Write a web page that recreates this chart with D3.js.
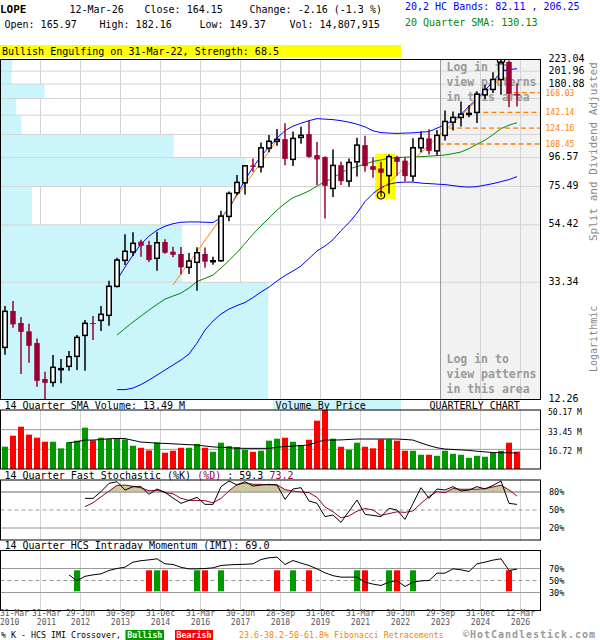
<!DOCTYPE html>
<html><head><meta charset="utf-8">
<script src="https://cdn.jsdelivr.net/npm/d3@7"></script>
<style>
body{margin:0;background:#fff;}
svg text{font-family:"DejaVu Sans Mono",monospace;}
</style></head><body>
<svg id="c" width="600" height="640"></svg>
<script>
// ---------------- DATA ----------------
const startYear = 2010; // first quarter shown: 2010 Q1, 65 quarters
const open  = [19.13,26.08,23.54,21.93,19.84,14.60,14.19,15.85,16.27,17.72,21.19,23.54,24.09,25.14,32.20,40.20,43.16,47.11,45.80,40.91,46.99,43.27,42.43,37.87,39.52,42.43,39.90,40.06,58.47,71.54,77.89,90.34,89.25,104.75,110.96,113.06,95.13,114.71,118.0,98.60,96.93,74.24,90.55,79.02,93.14,107.41,89.78,88.03,82.83,97.11,94.10,82.47,104.99,113.74,102.28,116.73,130.65,136.05,139.6,141.99,164.95,172.73,188.1,218.5,165.97];
const high  = [27.21,28.40,24.77,23.40,20.65,15.53,17.92,17.32,18.54,21.24,24.15,24.99,27.21,33.77,41.12,50.25,51.12,47.95,47.52,51.25,48.16,45.14,45.03,42.79,44.91,44.80,41.46,61.33,72.39,83.17,90.55,95.85,109.93,117.0,123.29,129.54,120.55,125.60,132.57,110.21,97.76,103.56,93.14,95.85,114.34,116.31,96.69,93.14,99.20,98.01,96.69,113.88,120.55,123.13,122.10,144.44,143.21,155.97,150.84,169.81,179.65,200.26,223.04,221.0,182.16];
const low   = [17.97,22.61,15.23,16.78,13.67,12.27,13.67,14.07,15.67,15.76,15.67,20.36,21.98,23.00,31.87,38.62,41.71,41.46,39.62,36.78,42.54,41.24,35.67,35.76,31.00,37.74,38.72,39.72,56.12,70.14,70.56,85.56,85.12,101.16,106.92,90.55,89.93,108.61,96.52,76.37,57.47,68.95,76.37,75.27,82.23,85.56,81.27,69.12,71.17,82.68,78.69,78.69,100.99,99.20,98.37,111.82,121.79,125.94,136.40,129.88,159.2,167.75,164.95,148.55,149.37];
const close = [26.01,23.28,21.85,19.39,14.38,14.14,16.13,15.95,17.66,20.83,23.48,23.34,25.36,32.20,40.30,43.42,46.46,45.53,40.30,46.71,42.90,42.17,37.87,39.96,42.90,39.72,40.06,58.62,71.16,78.15,90.01,89.25,104.96,110.96,112.79,95.55,113.74,116.73,97.18,95.06,75.91,90.34,79.02,92.67,107.41,89.78,86.99,84.84,97.36,93.14,82.47,104.99,113.74,102.28,116.73,131.44,136.05,139.93,140.8,165.93,172.73,188.1,218.0,166.31,164.15];
// volume, millions of shares
const volume = [18.96,28.31,35.97,29.20,26.60,23.19,23.19,17.54,22.89,24.08,35.15,24.37,26.60,25.49,26.31,25.19,19.77,18.06,15.83,22.66,13.82,15.53,18.06,18.06,21.18,18.06,14.64,22.37,19.47,18.65,16.35,14.64,15.53,24.08,25.79,26.60,23.19,20.36,24.89,41.09,50.17,25.79,18.95,16.35,22.37,18.95,17.54,25.19,25.19,24.08,15.53,15.53,12.11,12.11,11.22,15.53,12.93,12.11,9.51,11.22,10.40,13.82,15.53,22.37,14.81];
const volSmaStart = 8;
const volSma = [22.37,23.26,24.6,24.6,25.12,25.71,26.0,25.86,24.37,22.89,22.52,21.92,21.77,21.40,21.03,20.66,20.36,19.54,18.80,18.43,18.06,17.69,17.54,17.54,17.54,17.54,18.43,19.17,19.47,19.92,20.36,22.89,24.6,24.6,24.75,25.12,25.49,25.49,25.49,25.49,25.49,25.49,25.12,24.6,22.14,19.92,18.06,16.94,16.57,16.2,15.83,15.09,14.56,13.97,13.82,13.82,13.49];
// 20,2 bands and 20 quarter SMA
const bandStart = 14;
const bandUpper = [33.97,37.96,42.06,46.19,49.41,52.0,53.78,54.94,55.64,55.79,55.79,55.64,55.50,57.88,62.23,70.74,79.7,89.02,97.77,105.6,114.04,121.58,126.27,129.54,132.34,134.66,134.10,133.53,132.34,130.65,128.43,125.51,121.37,119.52,119.01,118.71,119.01,119.3,120.04,120.55,124.13,127.9,132.9,139.36,149.83,159.0,171.7,184.3,201.1,204.57,206.25];
const bandLower = [13.34,13.34,13.52,13.93,14.47,15.10,15.76,16.45,17.17,18.07,19.84,22.17,23.94,25.42,26.52,27.33,28.04,29.26,30.66,32.0,33.68,35.31,36.69,38.29,40.83,43.53,45.41,47.95,51.78,55.41,60.14,66.35,71.05,74.77,77.02,78.02,78.35,78.35,77.68,77.36,77.02,76.70,76.05,75.40,75.08,75.40,76.37,77.36,78.69,80.05,82.11];
const sma20 = [21.24,22.49,23.74,24.99,26.30,27.59,28.89,29.63,30.40,31.73,33.54,34.47,35.45,37.64,40.13,42.98,46.40,50.25,53.91,57.63,61.7,65.32,68.67,70.45,72.70,75.72,78.62,81.07,84.98,87.57,89.47,91.32,93.46,94.66,96.11,96.5,96.93,97.1,97.36,97.76,98.2,98.76,99.87,101.34,104.26,108.33,112.1,117.45,123.6,127.35,130.13];
// stochastic
const stochStart = 10;
const stochK = [69.4,69.4,80.6,94.4,97.2,83.3,88.9,88.9,76.1,85,79.4,70,61.1,66,71.1,59.4,59.4,88.9,98.3,91.7,97.2,90,91.5,92.8,91.7,67.8,85,87.2,65,61.1,38.9,41.7,29.4,48,66.7,42.8,41,38.9,52.8,50,34.4,61,87.2,69.4,85,83.3,88.9,81.7,83.3,88.9,85,91,98.3,61.1,59.3];
const stochD = [55.6,62,72,81.5,91,91.5,89.5,87,82,83,79,77,69.5,66,66,65.5,62,69.3,82,92.5,95,93,92.8,91.8,92,84,81.5,80,79,71,55,47,37,40,48,52.5,50,41,44,47,46,48.5,61,72.5,80.5,79,85.8,84.6,84.6,84.6,85.7,88.4,91.4,83.5,73.2];
// intraday momentum
const imiStart = 8;
const imi = [59.4,49.4,57,59.4,61.1,66.7,70,72.2,80.6,83,84.4,86.1,77.8,76.7,72,69.4,69.4,70,71.1,75,76,76.7,77,77.8,85,87.8,88.9,76.7,83.3,79,75,69.4,62.8,58,55.6,55.6,55.6,47.2,44,41.7,47.2,50,40,47.2,49.4,50,62.2,62.2,69.4,67.8,65,77.8,80.6,84,86.1,66.7,69.0];
const crossIdx  = [9,18,19,20,24,25,27,34,36,38,44,45,48,49,51,63];
const crossType = ["bull","bear","bull","bear","bull","bear","bull","bear","bull","bear","bull","bear","bull","bear","bull","bear"];
// price axis
const priceGrid = [12.26,33.34,54.42,75.49,96.57,117.64,138.72,159.80,180.88,201.96,223.04];
const priceLabels = [12.26,33.34,54.42,75.49,96.57,180.88,201.96,223.04];
// volume by price (millions of shares per price band between grid levels, bottom up)
const vbpVolume = [348,236,41,318.5,225,27.3,20.4,57.2,14.3,15.2];
// fibonacci retracements
const fibLevels = [168.03,142.14,124.16,108.45];
const fibFrom   = [62.6,58.8,55.5,54.2];
// trend lines [startIdx, startPrice, endIdx, endPrice]
const trendLines = [[21,32.6,34,112.1],[47,73.4,62,190]];
// pattern
const patternIdx = [47,48];
const swingLowIdx = 47, swingHighIdx = 62;
// x-axis ticks
const tickIdx  = [0,4,9,14,19,24,29,34,39,44,49,54,59,64];
const tickDay  = ["31-Mar","31-Mar","29-Jun","30-Sep","31-Dec","31-Mar","30-Jun","28-Sep","31-Dec","31-Mar","30-Jun","29-Sep","31-Dec","12-Mar"];
const tickYear = ["2010","2011","2012","2013","2014","2016","2017","2018","2019","2021","2022","2023","2024","2026"];
const volTicks = [16.72,33.45,50.17];

// ---------------- CHART ----------------
const svg = d3.select("#c");
const n = open.length;
const L = 0.5, R = 540.5;
const x = d3.scaleLinear().domain([0, n-1]).range([5, 517]);
const yP = d3.scaleLog().domain([12.26, 223.04]).range([399.5, 59.5]);
const yV = d3.scaleLinear().domain([0, 50.17]).range([469, 410]);
const yS = d3.scaleLinear().domain([0, 100]).range([540, 480]);
const yI = d3.scaleLinear().domain([0, 100]).range([610.5, 550.5]);
const RED = "#990033", GRID = "#d3d3d3", DARK = "#999";
const gridX = tickIdx.slice(1).map(i => x(i) + 3.5);

svg.append("rect").attr("width",600).attr("height",640).attr("fill","#fff");

// header
svg.append("rect").attr("x",0).attr("y",45).attr("width",401).attr("height",12).attr("fill","#ffff00");
const hdr = svg.append("g").attr("font-size",10).attr("fill","#000");
hdr.append("text").attr("x",0).attr("y",12.5).attr("font-weight","bold").attr("font-size",11).text("LOPE");
hdr.append("text").attr("x",69.5).attr("y",12.5).text("12-Mar-26");
hdr.append("text").attr("x",144.5).attr("y",12.5).text("Close: " + close[n-1].toFixed(2));
hdr.append("text").attr("x",249.5).attr("y",12.5).text("Change: -2.16 (-1.3 %)");
hdr.append("text").attr("x",4.5).attr("y",28).text("Open: " + open[n-1].toFixed(2));
hdr.append("text").attr("x",99.5).attr("y",28).text("High: " + high[n-1].toFixed(2));
hdr.append("text").attr("x",199.5).attr("y",28).text("Low: " + low[n-1].toFixed(2));
hdr.append("text").attr("x",289.5).attr("y",28).text("Vol: 14,807,915");
hdr.append("text").attr("x",405).attr("y",10).attr("fill","#0000ff").text("20,2 HC Bands: " + bandLower[bandLower.length-1].toFixed(2) + " , " + bandUpper[bandUpper.length-1].toFixed(2));
hdr.append("text").attr("x",405).attr("y",26).attr("fill","#008800").text("20 Quarter SMA: " + sma20[sma20.length-1].toFixed(2));
hdr.append("text").attr("x",2).attr("y",55).text("Bullish Engulfing on 31-Mar-22, Strength: 68.5");

// ---------- main price panel ----------
svg.append("clipPath").attr("id","mclip").append("rect").attr("x",L).attr("y",59.5).attr("width",R-L).attr("height",340);
const m = svg.append("g").attr("clip-path","url(#mclip)");
m.append("rect").attr("x",x(54)+3.5).attr("y",59.5).attr("width",R-(x(54)+3.5)).attr("height",340).attr("fill","#f2f2f2");
m.selectAll(".vg").data(gridX).join("line").attr("x1",d=>d).attr("x2",d=>d).attr("y1",59.5).attr("y2",399.5).attr("stroke",GRID);
const vbpX = d3.scaleLinear().domain([0, d3.max(vbpVolume)]).range([0, 267.7]);
m.selectAll(".vbp").data(vbpVolume).join("rect")
  .attr("x",L).attr("y",(d,k)=>yP(priceGrid[k+1])).attr("width",d=>vbpX(d))
  .attr("height",(d,k)=>yP(priceGrid[k])-yP(priceGrid[k+1])).attr("fill","#c9f5fb");
m.selectAll(".hg").data(priceGrid).join("line").attr("x1",L).attr("x2",R).attr("y1",d=>yP(d)).attr("y2",d=>yP(d)).attr("stroke",GRID);
m.append("line").attr("x1",x(54)+3.5).attr("x2",x(54)+3.5).attr("y1",59.5).attr("y2",399.5).attr("stroke",DARK);
const lg = m.append("g").attr("fill","#9a9a9a").attr("font-weight","bold").attr("font-size",11.5);
[["Log in to",70.5],["view patterns",85.5],["in this area",100.5],["Log in to",363],["view patterns",378],["in this area",393]].forEach(t=>{
  lg.append("text").attr("x",446.5).attr("y",t[1]).text(t[0]);
});
m.append("rect").attr("x",x(patternIdx[0])-6).attr("width",x(patternIdx[1])-x(patternIdx[0])+12)
  .attr("y",yP(d3.max(patternIdx,i=>high[i]))-1)
  .attr("height",yP(d3.min(patternIdx,i=>low[i]))-yP(d3.max(patternIdx,i=>high[i]))+3).attr("fill","#ffff00");
const lineFrom = (arr, start, ys) => d3.line().x((d,k)=>x(start+k)).y(d=>ys(d))(arr);
m.append("path").attr("d",lineFrom(bandUpper,bandStart,yP)).attr("fill","none").attr("stroke","#0000ff").attr("stroke-width",1);
m.append("path").attr("d",lineFrom(bandLower,bandStart,yP)).attr("fill","none").attr("stroke","#0000ff").attr("stroke-width",1);
m.append("path").attr("d",lineFrom(sma20,bandStart,yP)).attr("fill","none").attr("stroke","#008800").attr("stroke-width",1);
m.selectAll(".tl").data(trendLines).join("line")
  .attr("x1",d=>x(d[0])).attr("y1",d=>yP(d[1])).attr("x2",d=>x(d[2])).attr("y2",d=>yP(d[3]))
  .attr("stroke","#ff8000").attr("stroke-width",1);
m.selectAll(".fb").data(fibLevels).join("line")
  .attr("x1",(d,k)=>x(fibFrom[k])).attr("x2",R).attr("y1",d=>yP(d)).attr("y2",d=>yP(d))
  .attr("stroke","#ff8000").attr("stroke-width",1.3).attr("stroke-dasharray","5,3");
const cd = d3.range(n).map(i=>({i,o:open[i],h:high[i],l:low[i],c:close[i],up:close[i]>=open[i]}));
m.selectAll(".wk").data(cd).join("line")
  .attr("x1",d=>x(d.i)).attr("x2",d=>x(d.i)).attr("y1",d=>yP(d.h)).attr("y2",d=>yP(d.l))
  .attr("stroke",d=>d.up?"#000":RED).attr("stroke-width",1.5);
m.selectAll(".bd").data(cd).join("rect")
  .attr("x",d=>x(d.i)-(d.up?2.25:2.75)).attr("width",d=>d.up?4.5:5.5)
  .attr("y",d=>yP(Math.max(d.o,d.c)))
  .attr("height",d=>Math.max(1,Math.abs(yP(d.o)-yP(d.c))))
  .attr("fill",d=>d.up?"#fff":RED).attr("stroke",d=>d.up?"#000":"none").attr("stroke-width",1.5);
m.append("circle").attr("cx",x(swingLowIdx)).attr("cy",yP(low[swingLowIdx])-1.5).attr("r",3.7).attr("fill","none").attr("stroke","#000").attr("stroke-width",1.2);
m.append("circle").attr("cx",x(swingHighIdx)).attr("cy",yP(high[swingHighIdx])+0.8).attr("r",3.7).attr("fill","none").attr("stroke","#000").attr("stroke-width",1.2);
svg.append("rect").attr("x",L).attr("y",59.5).attr("width",R-L).attr("height",340).attr("fill","none").attr("stroke","#000");
svg.selectAll(".pl").data(priceLabels).join("text").attr("x",548.5).attr("y",d=>yP(d)+2.5)
  .attr("font-size",10).attr("fill","#000").text(d=>d.toFixed(2));
svg.selectAll(".fl").data(fibLevels).join("text").attr("x",545.5).attr("y",d=>yP(d)+3)
  .attr("font-size",8).attr("fill","#ff8000").text(d=>d.toFixed(2));
svg.append("text").attr("transform","translate(596.5,241) rotate(-90)").attr("font-size",11).attr("fill","#888").text("Split and Dividend Adjusted");
svg.append("text").attr("transform","translate(596.5,372) rotate(-90)").attr("font-size",10).attr("fill","#888").text("Logarithmic");

// ---------- volume panel ----------
svg.append("rect").attr("x",273).attr("y",400).attr("width",128).attr("height",10.5).attr("fill","#c9f5fb");
const vh = svg.append("g").attr("font-size",10).attr("fill","#000");
vh.append("text").attr("x",4.5).attr("y",409).text("14 Quarter SMA Volume: " + volSma[volSma.length-1].toFixed(2) + " M");
vh.append("text").attr("x",275.5).attr("y",409).text("Volume By Price");
vh.append("text").attr("x",429.5).attr("y",409).text("QUARTERLY CHART");
const v = svg.append("g");
v.selectAll(".vg").data(gridX).join("line").attr("x1",d=>d).attr("x2",d=>d).attr("y1",410).attr("y2",469).attr("stroke",GRID);
v.selectAll(".hg").data(volTicks.slice(0,2)).join("line").attr("x1",L).attr("x2",R).attr("y1",d=>yV(d)).attr("y2",d=>yV(d)).attr("stroke",DARK);
v.selectAll(".vb").data(volume).join("rect")
  .attr("x",(d,i)=>x(i)-3).attr("width",6).attr("y",d=>yV(d)).attr("height",d=>yV(0)-yV(d))
  .attr("fill",(d,i)=>close[i]>=open[i]?"#009900":"#ff0000");
v.append("path").attr("d",lineFrom(volSma,volSmaStart,yV)).attr("fill","none").attr("stroke","#000").attr("stroke-width",1);
svg.append("rect").attr("x",L).attr("y",410).attr("width",R-L).attr("height",59).attr("fill","none").attr("stroke","#000");
svg.selectAll(".vl").data(volTicks).join("text").attr("x",548).attr("y",d=>yV(d)+5)
  .attr("font-size",8).attr("fill","#000").text(d=>d.toFixed(2)+" M");

// ---------- stochastic panel ----------
const sh = svg.append("text").attr("x",4.5).attr("y",478.5).attr("font-size",10).attr("fill","#000");
sh.append("tspan").text("14 Quarter Fast Stochastic (%K) ");
sh.append("tspan").attr("fill",RED).text("(%D)");
sh.append("tspan").text(" : " + stochK[stochK.length-1].toFixed(1) + " ");
sh.append("tspan").attr("fill",RED).text(stochD[stochD.length-1].toFixed(1));
const s = svg.append("g");
s.selectAll(".vg").data(gridX).join("line").attr("x1",d=>d).attr("x2",d=>d).attr("y1",480).attr("y2",540).attr("stroke",GRID);
s.selectAll(".hg").data([20,50,80]).join("line").attr("x1",L).attr("x2",R).attr("y1",d=>yS(d)).attr("y2",d=>yS(d))
  .attr("stroke",DARK).attr("stroke-dasharray",d=>d===50?"4,3":null);
s.append("path").attr("d",d3.area().x((d,k)=>x(stochStart+k)).y0(yS(80)).y1(d=>yS(Math.max(80,d)))(stochD)).attr("fill","#cbc99d");
s.append("line").attr("x1",L).attr("x2",R).attr("y1",yS(80)).attr("y2",yS(80)).attr("stroke",DARK);
s.append("path").attr("d",lineFrom(stochD,stochStart,yS)).attr("fill","none").attr("stroke",RED).attr("stroke-width",1);
s.append("path").attr("d",lineFrom(stochK,stochStart,yS)).attr("fill","none").attr("stroke","#000").attr("stroke-width",1);
svg.append("rect").attr("x",L).attr("y",480).attr("width",R-L).attr("height",60).attr("fill","none").attr("stroke","#000");
svg.selectAll(".sl").data([20,50,80]).join("text").attr("x",549).attr("y",d=>yS(d)+3)
  .attr("font-size",8.5).attr("fill","#000").text(d=>d+"%");

// ---------- IMI panel ----------
svg.append("text").attr("x",4.5).attr("y",549).attr("font-size",10).attr("fill","#000")
  .text("14 Quarter HCS Intraday Momentum (IMI): " + imi[imi.length-1].toFixed(1));
const im = svg.append("g");
im.selectAll(".vg").data(gridX).join("line").attr("x1",d=>d).attr("x2",d=>d).attr("y1",550.5).attr("y2",610.5).attr("stroke",GRID);
im.selectAll(".hg").data([30,50,70]).join("line").attr("x1",L).attr("x2",R).attr("y1",d=>yI(d)).attr("y2",d=>yI(d))
  .attr("stroke",DARK).attr("stroke-dasharray",d=>d===50?"4,3":null);
im.selectAll(".cx").data(crossIdx).join("rect")
  .attr("x",d=>x(d)-3).attr("width",6).attr("y",yI(67)).attr("height",yI(32)-yI(67))
  .attr("fill",(d,k)=>crossType[k]==="bull"?"#009900":"#ff0000");
im.append("path").attr("d",lineFrom(imi,imiStart,yI)).attr("fill","none").attr("stroke","#000").attr("stroke-width",1);
svg.append("rect").attr("x",L).attr("y",550.5).attr("width",R-L).attr("height",60).attr("fill","none").attr("stroke","#000");
svg.selectAll(".il").data([30,50,70]).join("text").attr("x",549).attr("y",d=>yI(d)+3)
  .attr("font-size",8.5).attr("fill","#000").text(d=>d+"%");

// ---------- x axis ----------
const xa = svg.append("g").attr("font-size",8).attr("fill","#555");
tickIdx.forEach((i,k)=>{
  let px = x(i)+3.5, anchor = "middle";
  if (k === 0) { px = 0; anchor = "start"; }
  if (k === 1) { px = x(i)+9.5; }
  xa.append("text").attr("x",px).attr("y",615.8).attr("text-anchor",anchor).text(tickDay[k]);
  xa.append("text").attr("x",px).attr("y",625.3).attr("text-anchor",anchor).text(tickYear[k]);
});

// ---------- legend ----------
const lgd = svg.append("g").attr("font-size",8.3);
lgd.append("text").attr("x",1).attr("y",638).attr("fill","#000").text("% K - HCS IMI Crossover,");
lgd.append("rect").attr("x",125.5).attr("y",630).attr("width",38.5).attr("height",10).attr("fill","#009900");
lgd.append("text").attr("x",144.7).attr("y",638).attr("text-anchor","middle").attr("fill","#fff").attr("font-weight","bold").text("Bullish");
lgd.append("rect").attr("x",175).attr("y",630).attr("width",38).attr("height",10).attr("fill","#ff0000");
lgd.append("text").attr("x",194).attr("y",638).attr("text-anchor","middle").attr("fill","#fff").attr("font-weight","bold").text("Bearish");
lgd.append("text").attr("x",239).attr("y",638).attr("fill","#ff8000").text("23.6-38.2-50-61.8% Fibonacci Retracements");
svg.append("text").attr("x",463).attr("y",637.6).attr("font-size",10).attr("font-weight","bold").attr("fill","#999")
  .attr("textLength",132).attr("lengthAdjust","spacing").text("©HotCandlestick.com");
</script>
</body></html>
